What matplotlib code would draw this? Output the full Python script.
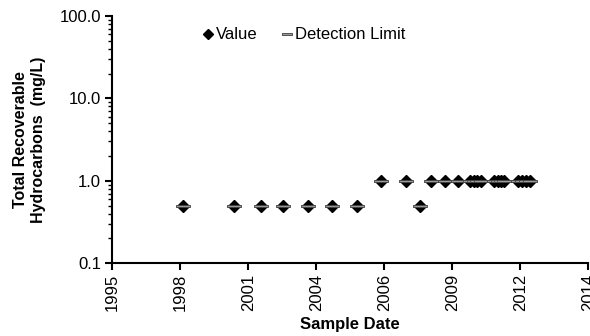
import matplotlib
matplotlib.use("Agg")
import matplotlib.pyplot as plt
from matplotlib.ticker import LogLocator, FixedLocator, NullFormatter

plt.rcParams['font.family'] = ['Liberation Sans', 'DejaVu Sans']

# sample dates as decimal years, values in mg/L
dates = [1998.72, 2000.74, 2001.82, 2002.69, 2003.68, 2004.63, 2005.63,
         2006.58, 2007.57, 2008.13, 2008.56, 2009.12, 2009.64,
         2010.11, 2010.25, 2010.39, 2010.55,
         2011.07, 2011.21, 2011.35, 2011.46,
         2012.02, 2012.18, 2012.34, 2012.50]
values = [0.5, 0.5, 0.5, 0.5, 0.5, 0.5, 0.5,
          1.0, 1.0, 0.5, 1.0, 1.0, 1.0,
          1.0, 1.0, 1.0, 1.0,
          1.0, 1.0, 1.0, 1.0,
          1.0, 1.0, 1.0, 1.0]
det_limit = values[:]

x_start = 1995.9
x_step = 2.7
x_ticks = [x_start + i * x_step for i in range(8)]
x_labels = ["1995", "1998", "2001", "2004", "2006", "2009", "2012", "2014"]

# flat bar marker for the detection limit
bar = [(-1, -0.2), (1, -0.2), (1, 0.2), (-1, 0.2), (-1, -0.2)]

fig = plt.figure(figsize=(5.9, 3.36), dpi=100)
ax = fig.add_axes([0.19, 0.217, 0.807, 0.735])

ax.plot(dates, values, linestyle='none', marker='D', markersize=6.5,
        color='black', label='Value', zorder=3)
ax.plot(dates, det_limit, linestyle='none', marker=bar, markersize=9.5,
        markerfacecolor='#9a9a9a', markeredgecolor='#404040', markeredgewidth=0.6,
        label='Detection Limit', zorder=4)

ax.set_yscale('log')
ax.set_ylim(0.1, 100)
ax.yaxis.set_major_locator(FixedLocator([0.1, 1, 10, 100]))
ax.set_yticklabels(["0.1", "1.0", "10.0", "100.0"])
ax.yaxis.set_minor_locator(LogLocator(base=10, subs=range(2, 10)))
ax.yaxis.set_minor_formatter(NullFormatter())

ax.set_xlim(x_ticks[0], x_ticks[-1])
ax.set_xticks(x_ticks)
ax.set_xticklabels(x_labels, rotation=90)

for s in ['top', 'right']:
    ax.spines[s].set_visible(False)
for s in ['left', 'bottom']:
    ax.spines[s].set_linewidth(1.5)
ax.tick_params(axis='both', which='major', labelsize=12, width=1.5, length=5,
               direction='out', pad=3)
ax.tick_params(axis='y', which='minor', width=1, length=3)

ax.set_xlabel('Sample Date', fontsize=12, fontweight='bold', labelpad=4)
ax.set_ylabel('Total Recoverable\nHydrocarbons  (mg/L)', fontsize=11.5,
              fontweight='bold', labelpad=10)

leg = ax.legend(loc='upper left', bbox_to_anchor=(0.16, 1.015), ncol=2, frameon=False,
                fontsize=12, handlelength=0.6, handletextpad=0.15, columnspacing=1.5,
                markerscale=0.75)

fig.savefig('out.png', dpi=100)
